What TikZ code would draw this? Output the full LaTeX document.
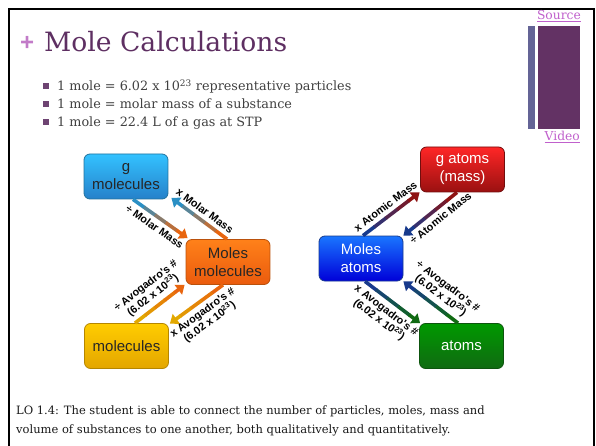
\documentclass[tikz,border=0pt]{standalone}
\usepackage{fontspec}
\setmainfont{DejaVu Serif}
\newfontfamily\boxfont{Liberation Sans}
\usetikzlibrary{arrows.meta, calc, positioning}

\definecolor{titlepurple}{HTML}{5E2F62}
\definecolor{pluspurple}{HTML}{C27BC8}
\definecolor{linkpink}{HTML}{C060CC}
\definecolor{bodygrey}{HTML}{404040}
\definecolor{barblue}{HTML}{646496}
\definecolor{barpurple}{HTML}{633264}
% arrow colours
\definecolor{acyan}{HTML}{2A8FC4}
\definecolor{aorange}{HTML}{E8650F}
\definecolor{ayellow}{HTML}{E2A800}
\definecolor{anavy}{HTML}{183A8C}
\definecolor{ared}{HTML}{8E1212}
\definecolor{agreen}{HTML}{106A12}

\tikzstyle{box} = [rectangle, rounded corners=6pt, minimum width=84pt, minimum height=45pt, align=center, line width=0.8pt, font=\boxfont\fontsize{15}{18}\selectfont]
\tikzstyle{flowline} = [line width=3.6pt]
\tikzstyle{lbl} = [sloped, align=center, inner sep=1.5pt, font=\boxfont\bfseries\fontsize{10.8}{12}\selectfont]
\tikzstyle{bullet} = [fill=titlepurple!90!white, minimum size=6pt, inner sep=0pt]
\tikzstyle{link} = [anchor=base east, inner sep=0pt, text=linkpink, font=\fontsize{12.3}{14}\selectfont]

% arrow that fades from colour #3 to colour #4
\newcommand{\gradarrow}[4]{%
  \foreach \p/\q/\m in {0/.21/100, .2/.41/75, .4/.61/50, .6/.81/25}
    \draw[flowline, #3!\m!#4] ($(#1)!\p!(#2)$) -- ($(#1)!\q!(#2)$);
  \draw[flowline, #4, -{Triangle[length=8pt, width=12pt]}] ($(#1)!.8!(#2)$) -- (#2);
}

\begin{document}
\begin{tikzpicture}[x=1pt, y=-1pt]
    \useasboundingbox (0,0) rectangle (596,446);
    % slide frame
    \draw[line width=2pt] (8.5,446) -- (8.5,9.5) -- (593.5,9.5) -- (593.5,446);

    % title and bullets
    \node [anchor=base west, inner sep=0pt, text=pluspurple, font=\boxfont\bfseries\fontsize{24}{28}\selectfont] (plus) at (20,51) {+};
    \node [anchor=base west, inner sep=0pt, text=titlepurple, font=\fontsize{26.6}{30}\selectfont] (title) at (44,52) {Mole Calculations};
    \foreach \y/\txt [count=\i] in {91/{1 mole = 6.02 x 10\textsuperscript{23} representative particles},
                                    109/{1 mole = molar mass of a substance},
                                    127/{1 mole = 22.4 L of a gas at STP}} {
        \node [bullet] (dot\i) at (46,\y-4.5) {};
        \node [anchor=base west, inner sep=0pt, text=bodygrey, font=\fontsize{12.8}{14}\selectfont] (item\i) at (57,\y) {\txt};
    }

    % side bars and links
    \fill[barblue] (528,26) rectangle (535,129);
    \fill[barpurple] (538,26) rectangle (580,129);
    \node [link] (source) at (581,20) {\underline{Source}};
    \node [link] (video) at (580,141) {\underline{Video}};

    % Nodes (molecules)
    \node [box, top color=cyan!70!blue!80, bottom color=acyan!90!blue, draw=acyan!80!black, text=black!85] (gmol) at (126,176.5) {g\\molecules};
    \node [box, top color=orange!90!red!90, bottom color=aorange!90!red, draw=aorange!80!black, text=black!85] (molmol) at (228,262) {Moles\\molecules};
    \node [box, top color=yellow!60!orange, bottom color=ayellow!95!orange, draw=ayellow!80!black, text=black!85] (mol) at (126.5,346) {molecules};

    % Nodes (atoms)
    \node [box, top color=red!85, bottom color=ared!90!red, draw=ared!80!black, text=white] (gatom) at (462.5,169.5) {g atoms\\(mass)};
    \node [box, top color=blue!60!cyan!90, bottom color=blue!85!black, draw=anavy, text=white] (molatom) at (361,258.5) {Moles\\atoms};
    \node [box, top color=green!60!black, bottom color=agreen, draw=agreen!80!black, text=white] (atom) at (461.5,346) {atoms};

    % end points
    \coordinate (a1s) at ([xshift=7pt]gmol.south);
    \coordinate (a1e) at ([xshift=2pt, yshift=1pt]molmol.north west);
    \coordinate (a2s) at ([xshift=-1pt]molmol.north);
    \coordinate (a2e) at ([xshift=3pt, yshift=1.5pt]gmol.south east);
    \coordinate (a3s) at ([xshift=8.5pt]mol.north);
    \coordinate (a3e) at ([xshift=-1pt]molmol.south west);
    \coordinate (a4s) at ([xshift=-5pt]molmol.south);
    \coordinate (a4e) at ([xshift=1pt, yshift=-0.5pt]mol.north east);
    \coordinate (b1s) at ([xshift=2pt]molatom.north);
    \coordinate (b1e) at ([xshift=-0.5pt]gatom.south west);
    \coordinate (b2s) at ([xshift=-5.5pt]gatom.south);
    \coordinate (b2e) at ([xshift=0pt]molatom.north east);
    \coordinate (b3s) at ([xshift=4pt]molatom.south);
    \coordinate (b3e) at ([xshift=1pt]atom.north west);
    \coordinate (b4s) at ([xshift=-3.5pt]atom.north);
    \coordinate (b4e) at ([xshift=0pt]molatom.south east);

    % Edges
    \gradarrow{a1s}{a1e}{acyan}{aorange}
    \gradarrow{a2s}{a2e}{aorange}{acyan}
    \gradarrow{a3s}{a3e}{ayellow}{aorange}
    \gradarrow{a4s}{a4e}{aorange}{ayellow}
    \gradarrow{b1s}{b1e}{anavy}{ared}
    \gradarrow{b2s}{b2e}{ared}{anavy}
    \gradarrow{b3s}{b3e}{anavy}{agreen}
    \gradarrow{b4s}{b4e}{agreen}{anavy}

    % Labels
    \path (a1s) -- node [lbl, below=4pt] {÷ Molar Mass} (a1e);
    \path (a2s) -- node [lbl, above=4pt] {x Molar Mass} (a2e);
    \path (a3s) -- node [lbl, above=4pt] {÷ Avogadro's \#\\(6.02 x 10\textsuperscript{23})} (a3e);
    \path (a4s) -- node [lbl, below=4pt] {x Avogadro's \#\\(6.02 x 10\textsuperscript{23})} (a4e);
    \path (b1s) -- node [lbl, above=4pt] {x Atomic Mass} (b1e);
    \path (b2s) -- node [lbl, below=4pt, pos=.42] {÷ Atomic Mass} (b2e);
    \path (b3s) -- node [lbl, below=4pt] {x Avogadro's \#\\(6.02 x 10\textsuperscript{23})} (b3e);
    \path (b4s) -- node [lbl, above=4pt, pos=.44] {÷ Avogadro's \#\\(6.02 x 10\textsuperscript{23})} (b4e);

    % learning objective
    \node [anchor=base west, inner sep=0pt, text=black!90, font=\fontsize{11.5}{14}\selectfont] (lo1) at (16,414)
        {LO 1.4: The student is able to connect the number of particles, moles, mass and};
    \node [anchor=base west, inner sep=0pt, text=black!90, font=\fontsize{11.5}{14}\selectfont] (lo2) at (16,433)
        {volume of substances to one another, both qualitatively and quantitatively.};
\end{tikzpicture}
\end{document}
